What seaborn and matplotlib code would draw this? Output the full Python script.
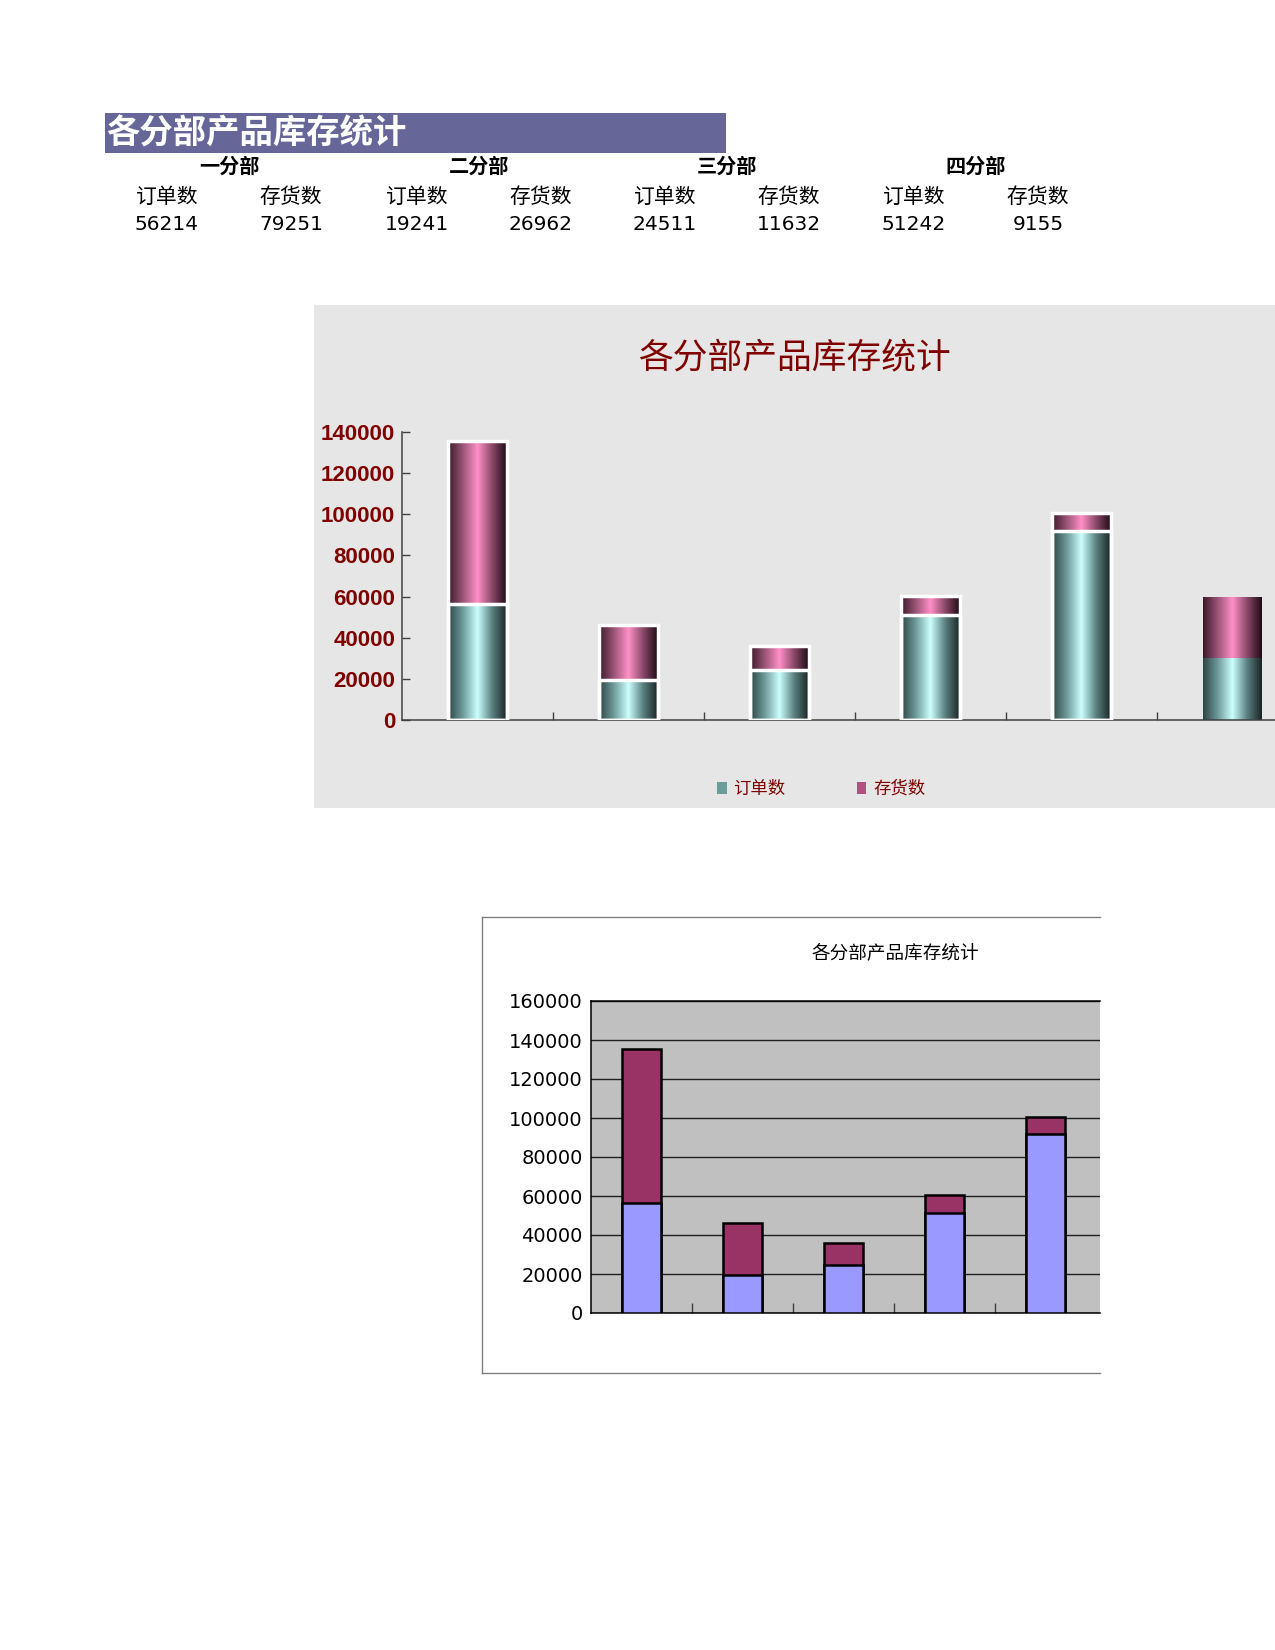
import numpy as np
import pandas as pd
import matplotlib
matplotlib.use("Agg")
import matplotlib.pyplot as plt
import seaborn as sns
from matplotlib.patches import Rectangle, Patch
from matplotlib.colors import LinearSegmentedColormap

# ---------------- data ----------------
title = "各分部产品库存统计"
depts = ["一分部", "二分部", "三分部", "四分部"]
row_labels = ["订单数", "存货数"]
table_orders = [56214, 19241, 24511, 51242]
table_stock = [79251, 26962, 11632, 9155]

chart_categories = ["一分部", "二分部", "三分部", "四分部", "五分部", "六分部"]
chart_orders = [56214, 19241, 24511, 51242, 91800, 30000]
chart_stock = [79251, 26962, 11632, 9155, 8600, 29800]

sns.set_theme(style="white")
plt.rcParams["font.family"] = ["Noto Sans CJK SC", "DejaVu Sans"]
plt.rcParams["axes.unicode_minus"] = False

W, H = 1275, 1650
fig = plt.figure(figsize=(W / 100, H / 100), dpi=100)
fig.patch.set_facecolor("white")


def ax_at(l, t, r, b, **kw):
    return fig.add_axes([l / W, 1 - b / H, (r - l) / W, (b - t) / H], **kw)


def fx(x):
    return x / W


def fy(y):
    return 1 - y / H


# ---------------- top table ----------------
fig.patches.append(Rectangle((fx(105), fy(153)), (726 - 105) / W, 40 / H,
                             transform=fig.transFigure, facecolor="#666699",
                             edgecolor="none", zorder=0))
fig.text(fx(106), fy(134), title, color="white", fontsize=24, weight="bold",
         va="center", ha="left")

dept_cx = [229, 479, 727, 976]
col_cx = [167, 291, 417, 541, 665, 789, 914, 1038]
for i, d in enumerate(depts):
    fig.text(fx(dept_cx[i]), fy(166), d, ha="center", va="center",
             fontsize=14.5, weight="bold", color="black")
    for j, (lab, val) in enumerate(zip(row_labels, [table_orders[i], table_stock[i]])):
        cx = col_cx[2 * i + j]
        fig.text(fx(cx), fy(197), lab, ha="center", va="center", fontsize=15,
                 color="black")
        fig.text(fx(cx), fy(224), str(val), ha="center", va="center",
                 fontsize=14.5, color="black", family="DejaVu Sans")

# ---------------- chart 1 (gradient style) ----------------
dark_red = "#800000"
bg1 = ax_at(314, 305, 1275, 808)
bg1.set_facecolor("#e6e6e6")
bg1.set_xticks([]); bg1.set_yticks([])
for s in bg1.spines.values():
    s.set_visible(False)
bg1.text(0.5, 1 - (358 - 305) / (808 - 305), title, transform=bg1.transAxes,
         ha="center", va="center", fontsize=25, color=dark_red)

ax1 = ax_at(402, 432, 1275, 720)
ax1.set_facecolor("none")
ax1.patch.set_alpha(0)

totals = [o + s for o, s in zip(chart_orders, chart_stock)]
df = pd.DataFrame({"cat": chart_categories, "orders": chart_orders,
                   "total": totals})

sns.barplot(data=df, x="cat", y="total", ax=ax1, width=0.39, color="#c06090",
            edgecolor="white", linewidth=2.5, saturation=1)
n_stock = len(ax1.patches)
sns.barplot(data=df, x="cat", y="orders", ax=ax1, width=0.39, color="#70b0b0",
            edgecolor="white", linewidth=2.5, saturation=1)

teal_cmap = LinearSegmentedColormap.from_list(
    "teal", [(0, "#2e4444"), (0.25, "#6e9a9a"), (0.5, "#ccffff"),
             (0.75, "#5a8080"), (1, "#1a2424")])
pink_cmap = LinearSegmentedColormap.from_list(
    "pink", [(0, "#3a1828"), (0.25, "#9a5577"), (0.5, "#ff90c8"),
             (0.75, "#8a4868"), (1, "#1e0a14")])

grad = np.linspace(0, 1, 256).reshape(1, -1)
n_cat = len(chart_categories)
for k, p in enumerate(list(ax1.patches)):
    x0, y0 = p.get_x(), p.get_y()
    w, h = p.get_width(), p.get_height()
    cmap = pink_cmap if k < n_stock else teal_cmap
    z = 2.0 if k < n_stock else 2.5
    im = ax1.imshow(grad, extent=[x0, x0 + w, y0, y0 + h], aspect="auto",
                    cmap=cmap, zorder=z, origin="lower", interpolation="bilinear")
    im.set_clip_path(p)
    p.set_facecolor("none")
    p.set_zorder(3)
    if k % n_cat == n_cat - 1:
        # last (partly cut) column is drawn without the white rim
        p.set_edgecolor("none")

ax1.set_xlim(-0.5, 5.28)
ax1.set_ylim(0, 140000)
ax1.set_yticks(np.arange(0, 140001, 20000))
ax1.set_yticklabels([str(v) for v in range(0, 140001, 20000)],
                    family="Liberation Sans", weight="bold", fontsize=16,
                    color=dark_red)
ax1.set_xticks(np.arange(0.5, 5.0, 1.0))
ax1.set_xticklabels([])
ax1.set_xlabel(""); ax1.set_ylabel("")
ax1.tick_params(axis="y", direction="in", length=6, width=1, color="#404040",
                pad=5, left=True)
ax1.tick_params(axis="x", direction="in", length=6, width=1, color="#404040",
                bottom=True)
for s in ["top", "right"]:
    ax1.spines[s].set_visible(False)
for s in ["left", "bottom"]:
    ax1.spines[s].set_color("#404040")
    ax1.spines[s].set_linewidth(1.1)
ax1.grid(False)

handles = [Patch(facecolor="#6a9c9c", edgecolor="none"),
           Patch(facecolor="#b0507e", edgecolor="none")]
leg = fig.legend(handles, row_labels, loc="center left",
                 bbox_to_anchor=(fx(717), fy(789)), ncol=2, frameon=False,
                 fontsize=12.5, handlelength=0.55, handleheight=0.75,
                 handletextpad=0.4, columnspacing=4.1, borderpad=0,
                 borderaxespad=0)
for t in leg.get_texts():
    t.set_color(dark_red)

# ---------------- chart 2 (classic style) ----------------
frame = ax_at(482, 917, 1100, 1373)
frame.set_facecolor("white")
frame.set_xticks([]); frame.set_yticks([])
frame.spines["right"].set_visible(False)
for s in ["left", "top", "bottom"]:
    frame.spines[s].set_color("#808080")
    frame.spines[s].set_linewidth(1.0)
frame.text((895 - 482) / (1100 - 482), 1 - (953 - 917) / (1373 - 917), title,
           transform=frame.transAxes, ha="center", va="center", fontsize=13.4,
           color="black")

ax2 = ax_at(591, 1001, 1100, 1313)
ax2.set_facecolor("#c0c0c0")
sns.barplot(data=df, x="cat", y="total", ax=ax2, width=0.39, color="#993366",
            edgecolor="black", linewidth=1.8, saturation=1, zorder=3)
sns.barplot(data=df, x="cat", y="orders", ax=ax2, width=0.39, color="#9999ff",
            edgecolor="black", linewidth=1.8, saturation=1, zorder=3)
ax2.set_xlim(-0.5, 4.54)
ax2.set_ylim(0, 160000)
ax2.set_yticks(np.arange(0, 160001, 20000))
ax2.set_yticklabels([str(v) for v in range(0, 160001, 20000)],
                    family="DejaVu Sans", fontsize=14, color="black")
ax2.set_xticks(np.arange(0.5, 4.5, 1.0))
ax2.set_xticklabels([])
ax2.set_xlabel(""); ax2.set_ylabel("")
ax2.tick_params(axis="y", length=0, pad=6)
ax2.tick_params(axis="x", direction="in", length=7, width=1, color="#404040",
                bottom=True)
ax2.yaxis.grid(True, color="#202020", linewidth=1.0)
ax2.xaxis.grid(False)
ax2.set_axisbelow(True)
ax2.spines["right"].set_visible(False)
for s in ["left", "top", "bottom"]:
    ax2.spines[s].set_color("black")
    ax2.spines[s].set_linewidth(1.1)

fig.savefig("out.png", dpi=100, facecolor="white")
